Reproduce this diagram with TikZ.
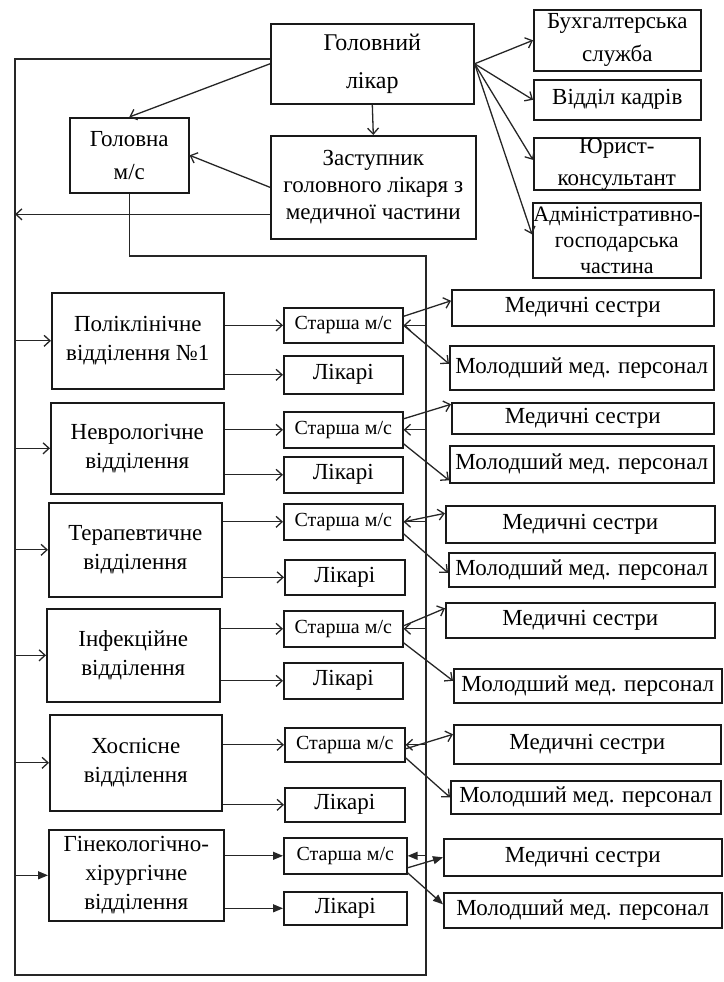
\documentclass[tikz,border=0pt]{standalone}
\usepackage{fontspec}
\setmainfont{Liberation Serif}
\usetikzlibrary{arrows.meta,calc}
\tikzset{
  box/.style={draw=black!90, line width=1.6pt, inner sep=0pt, align=center,
    font=\fontsize{23}{29}\selectfont, text=black},
  smalltext/.style={font=\fontsize{20}{24}\selectfont},
  conn/.style={draw=black!85, line width=1.3pt},
  arr/.style={conn, -{Straight Barb[length=6pt,width=11pt]}},
  arrf/.style={conn, -{Triangle[length=10pt,width=8pt]}},
}
\newcommand\bx[7]{\node[box,#6,minimum width={(#4-#2)*1pt},minimum height={(#5-#3)*1pt},anchor=north west] (#1) at (#2,#3) {#7};}
\begin{document}
\begin{tikzpicture}[x=1pt,y=-1pt]
\useasboundingbox (0,0) rectangle (723,982);
% top part
\bx{glav}{270}{23}{473}{103}{font=\fontsize{24}{38}\selectfont}{Головний\\лікар}
\bx{golms}{69}{117}{188}{192}{font=\fontsize{23}{33}\selectfont}{Головна\\м/с}
\bx{zast}{270}{135}{475}{238}{font=\fontsize{23}{27}\selectfont}{Заступник\\головного лікаря з\\медичної частини}
\bx{buh}{533}{9}{700}{70}{font=\fontsize{23}{33}\selectfont}{Бухгалтерська\\служба}
\bx{kadr}{533}{79}{700}{119}{}{Відділ кадрів}
\bx{yur}{533}{137}{699}{189}{font=\fontsize{23}{32}\selectfont}{Юрист-\\консультант}
\bx{adm}{532}{202}{700}{277}{font=\fontsize{22}{26}\selectfont}{Адміністративно-\\господарська\\частина}
% departments
\bx{d1}{51}{292}{223}{388}{}{Поліклінічне\\відділення №1}
\bx{d2}{50}{402}{223}{493}{}{Неврологічне\\відділення}
\bx{d3}{48}{502}{221}{596}{}{Терапевтичне\\відділення}
\bx{d4}{46}{608}{219}{701}{}{Інфекційне\\відділення}
\bx{d5}{49}{714}{221}{810}{}{Хоспісне\\відділення}
\bx{d6}{48}{829}{223}{920}{}{Гінекологічно-\\хірургічне\\відділення}
% senior nurses
\bx{s1}{283}{307}{402}{342}{smalltext}{Старша м/с}
\bx{s2}{283}{411}{402}{447}{smalltext}{Старша м/с}
\bx{s3}{283}{503}{402}{539}{smalltext}{Старша м/с}
\bx{s4}{283}{610}{402}{646}{smalltext}{Старша м/с}
\bx{s5}{284}{727}{404}{761}{smalltext}{Старша м/с}
\bx{s6}{283}{837}{406}{873}{smalltext}{Старша м/с}
% doctors
\bx{l1}{283}{355}{402}{393}{}{Лікарі}
\bx{l2}{283}{456}{402}{492}{}{Лікарі}
\bx{l3}{284}{559}{404}{594}{}{Лікарі}
\bx{l4}{283}{662}{402}{698}{}{Лікарі}
\bx{l5}{284}{787}{404}{821}{}{Лікарі}
\bx{l6}{283}{891}{406}{924}{}{Лікарі}
% nurses
\bx{m1}{451}{289}{713}{325}{}{Медичні сестри}
\bx{m2}{451}{402}{713}{433}{}{Медичні сестри}
\bx{m3}{445}{505}{714}{542}{}{Медичні сестри}
\bx{m4}{445}{602}{714}{637}{}{Медичні сестри}
\bx{m5}{453}{724}{720}{763}{}{Медичні сестри}
\bx{m6}{443}{838}{721}{875}{}{Медичні сестри}
% junior staff
\bx{j1}{449}{345}{713}{389}{}{Молодший мед. персонал}
\bx{j2}{449}{445}{713}{482}{}{Молодший мед. персонал}
\bx{j3}{448}{552}{714}{586}{}{Молодший мед. персонал}
\bx{j4}{453}{668}{721}{702}{}{Молодший мед. персонал}
\bx{j5}{450}{780}{720}{813}{}{Молодший мед. персонал}
\bx{j6}{443}{892}{721}{927}{}{Молодший мед. персонал}
% frame lines
\coordinate (ltop) at (15,59);
\coordinate (lbot) at (15,975);
\coordinate (rv) at (426,256);
\draw[conn] (ltop -| glav.west) -- (ltop) -- (lbot) -- (rv |- lbot) -- (rv) -- (golms.south |- rv) -- (golms.south);
% top arrows
\draw[arr] (glav.south) -- (zast.north);
\draw[arr] (glav.west) -- (golms.north);
\draw[arr] (zast.west) -- (golms.east);
\coordinate (zl) at ([yshift=-27pt]zast.west);
\draw[arr] (zl) -- (zl -| ltop);
\draw[arr] (glav.east) -- (buh.west);
\draw[arr] (glav.east) -- (kadr.west);
\draw[arr] (glav.east) -- ([yshift=4pt]yur.west);
\draw[arr] (glav.east) -- ([yshift=6pt]adm.west);
% groups 1-5
\foreach \i in {1,...,5}{
  \draw[arr] (ltop |- d\i.west) -- (d\i.west);
  \draw[arr] (d\i.east |- s\i.west) -- (s\i.west);
  \draw[arr] (d\i.east |- l\i.west) -- (l\i.west);
  \draw[arr] (rv |- s\i.east) -- (s\i.east);
}
\foreach \i/\a/\b/\c/\d in {1/9/7/0/4, 2/11/14/-14/-16, 3/0/11/-12/-3, 4/3/12/-14/5, 5/-4/10/-13/0}{
  \draw[arr] ([yshift=\a pt]s\i.east) -- ([yshift=\b pt]m\i.west);
  \draw[arr] ([yshift=\c pt]s\i.east) -- ([yshift=\d pt]j\i.west);
}
% group 6 (filled heads)
\draw[arrf] (ltop |- d6.west) -- (d6.west);
\draw[arrf] (d6.east |- s6.west) -- (s6.west);
\draw[arrf] (d6.east |- l6.west) -- (l6.west);
\draw[arrf] (rv |- s6.east) -- (s6.east);
\draw[arrf] ([yshift=-12pt]s6.east) -- (m6.west);
\draw[arrf] ([yshift=-17pt]s6.east) -- ([yshift=6pt]j6.west);
\end{tikzpicture}
\end{document}
